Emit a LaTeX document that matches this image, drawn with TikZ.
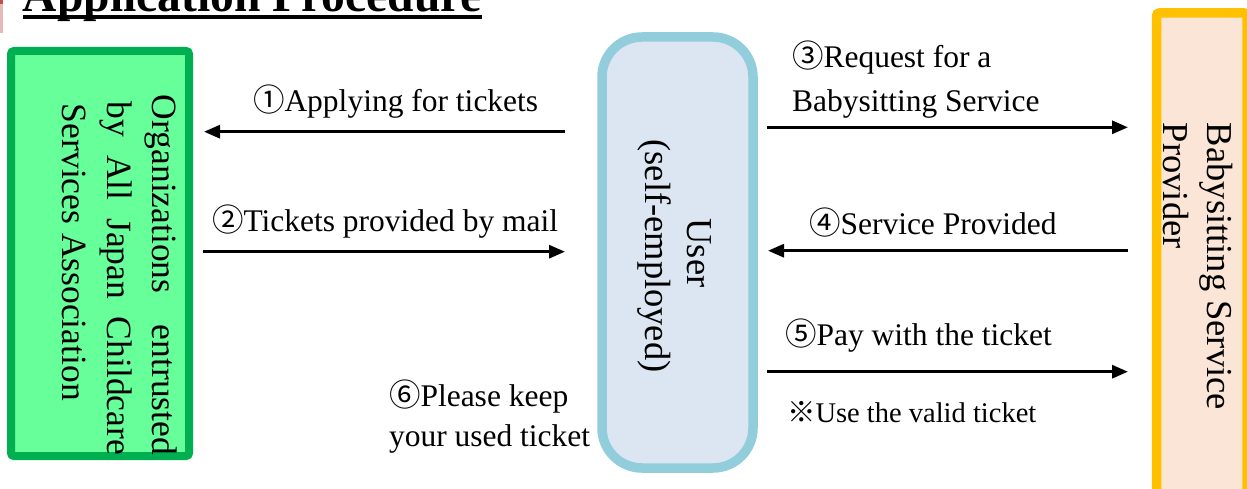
\documentclass[tikz,border=0pt]{standalone}
\usepackage{fontspec}
\setmainfont{Liberation Serif}
\newfontfamily\cjk{Noto Sans CJK JP}
\usetikzlibrary{arrows.meta}

\definecolor{orgline}{HTML}{00B050}
\definecolor{orgfill}{HTML}{66FF99}
\definecolor{userline}{HTML}{92CDDC}
\definecolor{userfill}{HTML}{DCE6F2}
\definecolor{provline}{HTML}{FFC000}
\definecolor{provfill}{HTML}{FBE5D6}
\definecolor{tabpink}{HTML}{E6B9B8}
\definecolor{tabred}{HTML}{C0504D}

\begin{document}
\begin{tikzpicture}[x=1pt,y=-1pt,
  lbl/.style={inner sep=0pt, outer sep=0pt, anchor=base west,
              font=\fontsize{31.5}{40}\selectfont},
  vtext/.style={inner sep=0pt, outer sep=0pt, rotate=-90, anchor=base west},
  box/.style={inner sep=0pt, outer sep=0pt, anchor=north west},
  flow/.style={line width=3pt, -{Triangle[length=16pt,width=13pt]}},
]
\useasboundingbox (0,0) rectangle (1247,489);
\clip (0,0) rectangle (1247,489);

% heading and the small tab on the left edge
\fill[tabpink] (0,0) rectangle (3,33);
\fill[tabred] (0,0) rectangle (3,4);
\node[inner sep=0pt, outer sep=0pt, anchor=base west,
      font=\fontsize{47.5}{50}\selectfont\bfseries] (title) at (23,12)
      {Application Procedure};
\draw[line width=4pt] ([yshift=-5pt]title.base west) -- ([yshift=-5pt]title.base east);

% the three parties
\node[box, draw=orgline, fill=orgfill, line width=8pt, rounded corners=3pt,
      minimum width=178pt, minimum height=405pt] (org) at (11,51) {};
\node[box, draw=userline, fill=userfill, line width=9.5pt, rounded corners=40pt,
      minimum width=151pt, minimum height=431pt] (user) at (602,37) {};
\node[box, draw=provline, fill=provfill, line width=9.5pt, rounded corners=3pt,
      minimum width=90.5pt, minimum height=520pt] (prov) at (1156.5,13) {};

% vertical captions
\begin{scope}[font=\fontsize{35.5}{40}\selectfont]
\node[vtext] (org1) at (152,95) {\makebox[360pt][s]{Organizations\hfill entrusted}};
\node[vtext] (org2) at (107,102) {\makebox[353pt][s]{by\hfill All\hfill Japan\hfill Childcare}};
\node[vtext] (org3) at (62,104) {Services Association};
\end{scope}
\begin{scope}[font=\fontsize{36.5}{40}\selectfont]
\node[vtext, anchor=base] (user1) at (687,253) {User};
\node[vtext, anchor=base] (user2) at (645,256) {(self-employed)};
\node[vtext] (prov1) at (1207,123) {Babysitting Service};
\node[vtext] (prov2) at (1163,123) {Provider};
\end{scope}

% arrow end points
\coordinate (a1s) at (565,131.7);  \coordinate (a1e) at (204,131.7);
\coordinate (a2s) at (203,251.7);  \coordinate (a2e) at (565,251.7);
\coordinate (a3s) at (767,127.3);  \coordinate (a3e) at (1128,127.3);
\coordinate (a4s) at (1128,250.7); \coordinate (a4e) at (768,250.7);
\coordinate (a5s) at (767,371.7);  \coordinate (a5e) at (1128,371.7);

\draw[flow] (a1s) -- (a1e);
\draw[flow] (a2s) -- (a2e);
\draw[flow] (a3s) -- (a3e);
\draw[flow] (a4s) -- (a4e);
\draw[flow] (a5s) -- (a5e);

% step labels
\node[lbl] (l1) at (253,111.7) {{\cjk ①}Applying for tickets};
\node[lbl] (l2) at (212,231.7) {{\cjk ②}Tickets provided by mail};
\node[lbl] (l3a) at (792,68) {{\cjk ③}Request for a};
\node[lbl] (l3b) at (792,111.7) {Babysitting Service};
\node[lbl] (l4) at (809,234) {{\cjk ④}Service Provided};
\node[lbl] (l5) at (785,345) {{\cjk ⑤}Pay with the ticket};
\node[lbl] (l6a) at (389,406.7) {{\cjk ⑥}Please keep};
\node[lbl] (l6b) at (389,446.5) {your used ticket};
\node[lbl, font=\fontsize{28.5}{32}\selectfont] (note) at (787,422)
      {{\cjk ※}Use the valid ticket};
\end{tikzpicture}
\end{document}
